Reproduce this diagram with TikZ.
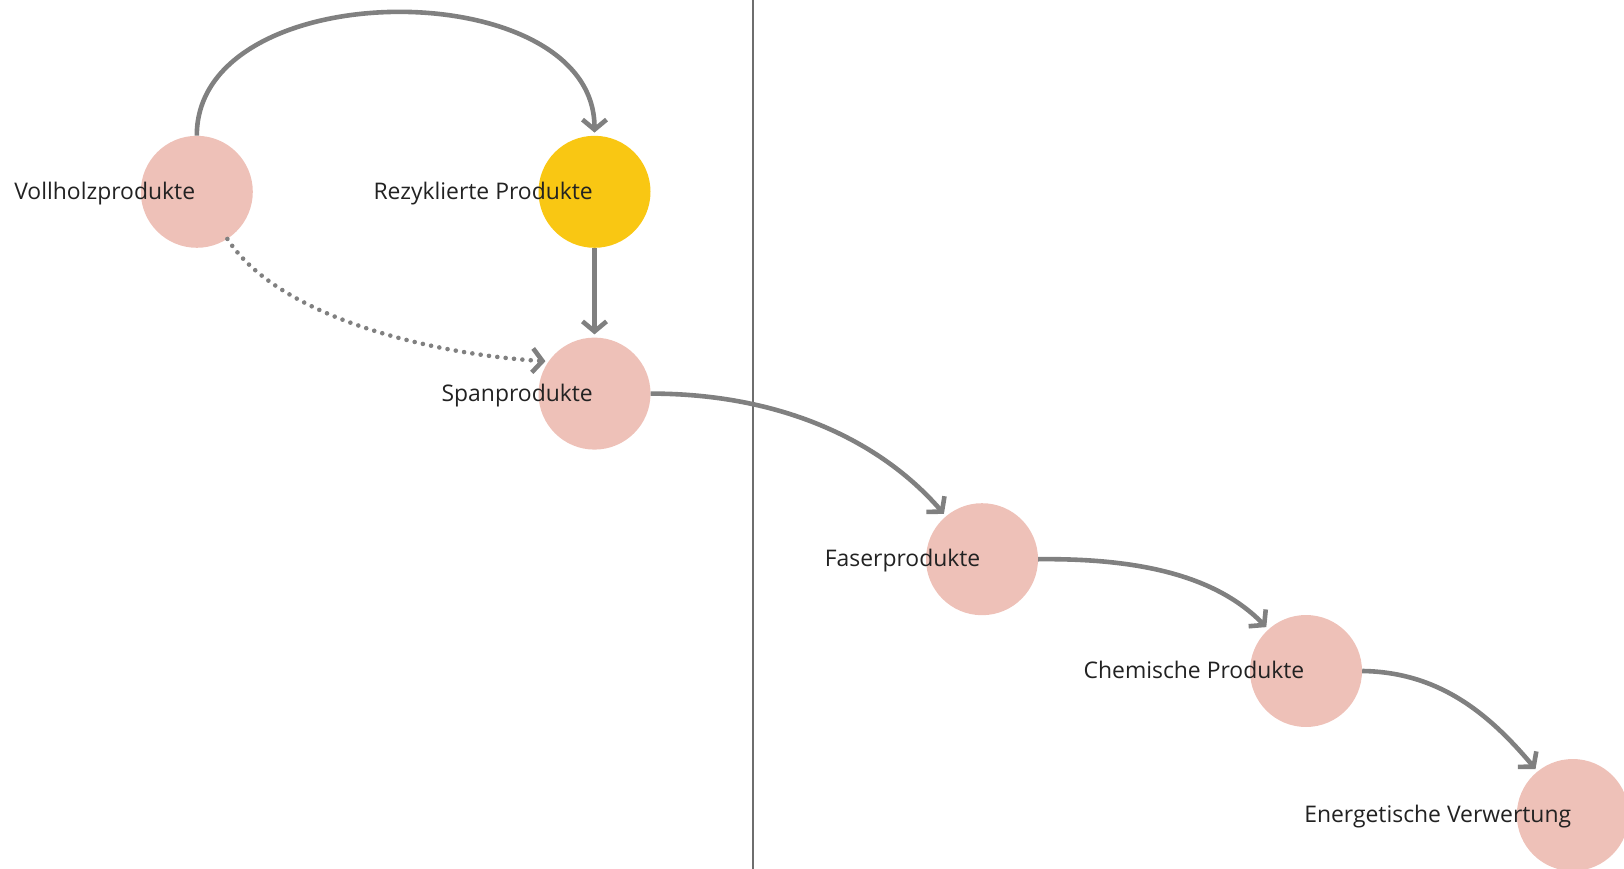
\documentclass[tikz,border=0pt]{standalone}
\usepackage{fontspec}
\setmainfont{Open Sans}
\usetikzlibrary{arrows.meta}
\definecolor{pinkc}{HTML}{EEC1B8}
\definecolor{yellowc}{HTML}{F9C713}
\definecolor{arrowc}{HTML}{808080}
\definecolor{linec}{HTML}{6E6E6E}
\definecolor{textc}{HTML}{222222}
\tikzset{
  prod/.style={circle, minimum size=112pt, inner sep=0pt, draw=none, fill=pinkc},
  recy/.style={prod, fill=yellowc},
  lbl/.style={anchor=base east, inner sep=0pt, text=textc, font=\fontsize{22.9}{27}\selectfont},
  flow/.style={draw=arrowc, line width=4.6pt, -{Straight Barb[length=10pt,width=24pt]}, shorten >=3pt},
  dotflow/.style={flow, dash pattern=on 0pt off 8.4pt, line cap=round},
}
\begin{document}
\begin{tikzpicture}[x=1pt,y=-1pt]
\useasboundingbox (0,0) rectangle (1624,869);
\draw[linec, line width=1.6pt] (753,0) -- (753,869);
\node[prod] (v) at (196.8,191.8) {};
\node[recy] (r) at (594.5,191.8) {};
\node[prod] (s) at (594.5,393.6) {};
\node[prod] (f) at (982,559.2) {};
\node[prod] (c) at (1306,671) {};
\node[prod] (e) at (1572.8,815) {};
\node[lbl] (vl) at ([xshift=-1.5pt,yshift=-7.5pt]v.center) {Vollholzprodukte};
\node[lbl] (rl) at ([xshift=-1.5pt,yshift=-7.5pt]r.center) {Rezyklierte Produkte};
\node[lbl] (sl) at ([xshift=-1.5pt,yshift=-7.5pt]s.center) {Spanprodukte};
\node[lbl] (fl) at ([xshift=-1.5pt,yshift=-7.5pt]f.center) {Faserprodukte};
\node[lbl] (cl) at ([xshift=-1.5pt,yshift=-7.5pt]c.center) {Chemische Produkte};
\node[lbl] (el) at ([xshift=-1.5pt,yshift=-7.5pt]e.center) {Energetische Verwertung};
\draw[flow] (v.north) .. controls (196.8,-28) and (594.5,-28) .. (r.north);
\draw[flow] (r.south) -- (s.north);
\draw[dotflow] (v.-57) .. controls (280,320) and (440,355) .. (s.145);
\draw[flow] (s.east) .. controls (780,393.6) and (880,440) .. (f.130);
\draw[flow] (f.east) .. controls (1150,558) and (1220,580) .. (c.132);
\draw[flow] (c.east) .. controls (1440,672) and (1490,715) .. (e.129);
\end{tikzpicture}
\end{document}
